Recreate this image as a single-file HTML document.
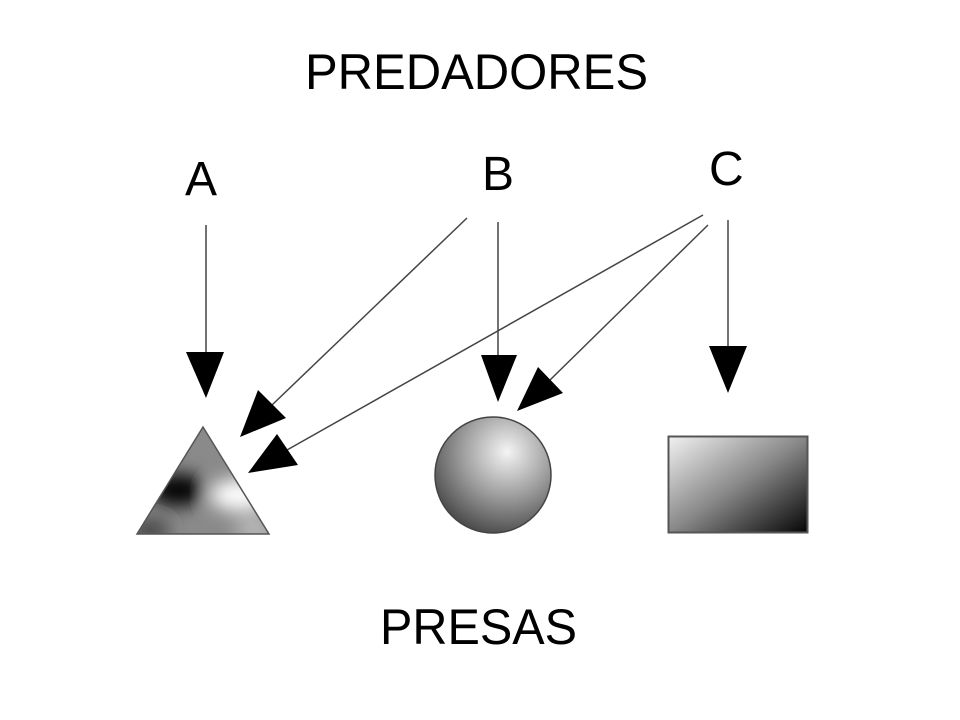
<!DOCTYPE html>
<html><head><meta charset="utf-8"><style>html,body{margin:0;padding:0;background:#fff}svg{display:block}</style></head>
<body>
<svg width="960" height="720" viewBox="0 0 960 720" xmlns="http://www.w3.org/2000/svg">
<defs>
<radialGradient id="sph" cx="0.62" cy="0.3" r="0.8">
<stop offset="0" stop-color="#f4f4f4"/><stop offset="0.5" stop-color="#9a9a9a"/><stop offset="1" stop-color="#3a3a3a"/>
</radialGradient>
<linearGradient id="rg" x1="0" y1="0" x2="1" y2="1">
<stop offset="0" stop-color="#f2f2f2"/><stop offset="0.5" stop-color="#888"/><stop offset="1" stop-color="#050505"/>
</linearGradient>
<clipPath id="tc"><polygon points="203,427 137,534 269,534"/></clipPath>
<filter id="bl" x="-50%" y="-50%" width="200%" height="200%"><feGaussianBlur stdDeviation="9"/></filter>
</defs>
<g font-family="Liberation Sans, sans-serif" font-size="50" fill="#000">
<text x="305" y="89" textLength="343" lengthAdjust="spacingAndGlyphs">PREDADORES</text>
<text x="185" y="195" font-size="48">A</text>
<text x="482" y="190" font-size="48">B</text>
<text x="709" y="185" font-size="48">C</text>
<text x="380" y="644" textLength="197" lengthAdjust="spacingAndGlyphs">PRESAS</text>
</g>
<g stroke="#444" stroke-width="1.5">
<line x1="206" y1="225" x2="206" y2="355"/>
<line x1="498" y1="222" x2="498" y2="356"/>
<line x1="728" y1="220" x2="728" y2="348"/>
<line x1="467" y1="218" x2="272" y2="405"/>
<line x1="703" y1="215" x2="287" y2="450"/>
<line x1="708" y1="225" x2="550" y2="380"/>
</g>
<g fill="#000">
<polygon points="186,352 224,352 206,398"/>
<polygon points="481,355 517,355 498,402"/>
<polygon points="709,346 747,346 728,393"/>
<polygon points="258,390 286,418 240,437"/>
<polygon points="277,434 298,465 248,473"/>
<polygon points="538,367 563,393 517,411"/>
</g>
<g clip-path="url(#tc)">
<rect x="130" y="420" width="150" height="120" fill="#8a8a8a"/>
<g filter="url(#bl)">
<ellipse cx="178" cy="490" rx="28" ry="16" fill="#000"/>
<ellipse cx="240" cy="495" rx="30" ry="16" fill="#fff"/>
<ellipse cx="150" cy="530" rx="20" ry="12" fill="#444"/>
<ellipse cx="255" cy="530" rx="20" ry="12" fill="#bbb"/>
</g>
</g>
<polygon points="203,427 137,534 269,534" fill="none" stroke="#555" stroke-width="1.5"/>
<circle cx="493" cy="475" r="58" fill="url(#sph)" stroke="#444" stroke-width="1.5"/>
<rect x="668.5" y="436.5" width="139" height="96" fill="url(#rg)" stroke="#555" stroke-width="2"/>
</svg>
</body></html>
